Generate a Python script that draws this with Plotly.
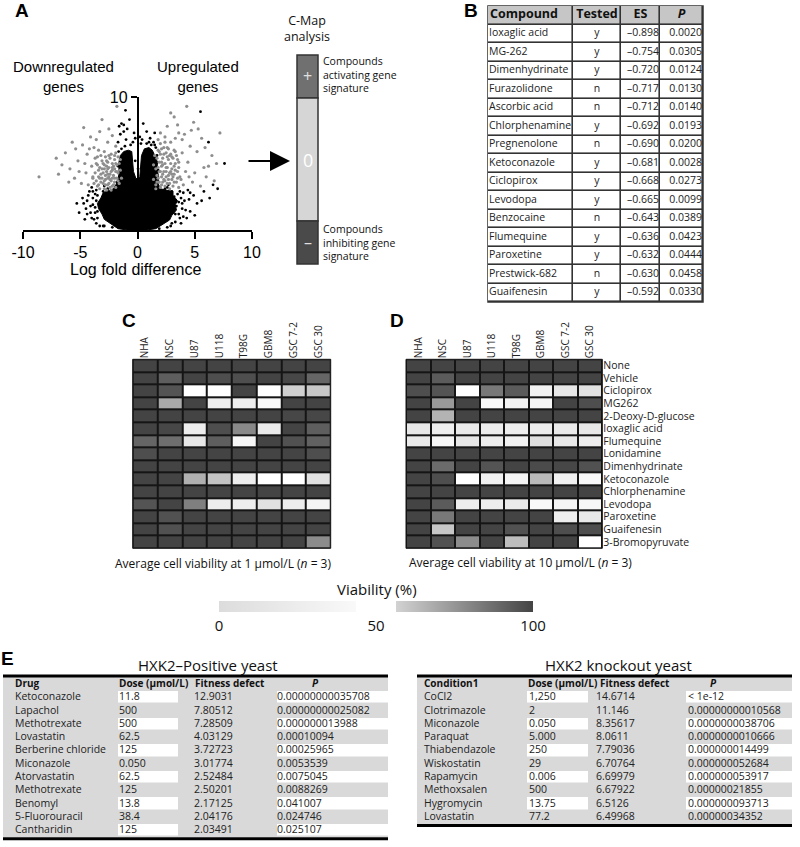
import plotly.graph_objects as go

W, H = 800, 847


def X(p):
    return p / W


def Y(p):
    return 1 - p / H


FONT = "Open Sans"
HELV = "Liberation Sans"

# ---------------- Panel A : volcano ----------------
core_outline = [(-0.1, 0), (0.8, 0.0), (1.6, 0.1), (2.2, 0.4), (2.8, 0.75), (3.0, 1.1), (3.4, 1.5),
                (3.3, 1.9), (3.5, 2.2), (3.1, 2.6), (3.1, 2.9), (2.5, 3.0), (2.0, 3.1), (1.8, 3.5),
                (1.85, 4.0), (1.7, 4.6), (1.75, 5.1), (1.5, 5.6), (1.3, 6.0), (1.0, 6.2), (0.6, 6.1),
                (0.35, 5.6), (0.25, 4.8), (0.2, 4.0), (0.05, 3.8), (-0.15, 3.9), (-0.35, 4.4),
                (-0.4, 5.2), (-0.5, 5.9), (-0.8, 6.0), (-1.2, 5.9), (-1.5, 5.6), (-1.65, 5.0),
                (-1.6, 4.3), (-1.75, 3.6), (-2.1, 3.1), (-2.6, 2.9), (-3.0, 2.8), (-3.2, 2.4),
                (-3.5, 2.0), (-3.4, 1.6), (-3.1, 1.2), (-2.9, 0.8), (-2.4, 0.5), (-1.7, 0.1),
                (-0.9, 0), (-0.1, 0)]
core_x = [p[0] for p in core_outline]
core_y = [p[1] for p in core_outline]

black_points = [(-1.05, 9.0), (5.5, 8.9), (6.2, 6.6), (7.6, 5.0), (7.0, 3.1), (6.3, 2.4), (5.8, 2.9),
                (5.2, 2.0), (4.9, 2.6), (4.6, 1.4), (4.4, 3.0), (4.1, 2.2), (3.9, 1.6), (3.7, 0.9),
                (3.5, 2.7), (3.3, 0.6), (4.3, 0.9), (5.0, 1.1), (-4.8, 2.4), (-4.5, 1.6), (-4.2, 2.9),
                (-4.0, 0.9), (-3.9, 1.9), (-3.7, 2.7), (-3.6, 0.5), (-3.5, 1.4), (-4.6, 0.8),
                (-5.1, 1.3), (-5.3, 2.0), (-3.3, 0.3), (-1.4, 8.0), (-1.2, 7.4), (-0.9, 7.6),
                (-0.7, 8.3), (0.5, 8.0), (0.8, 7.4), (1.1, 6.9), (1.4, 6.6), (1.6, 6.2), (-1.7, 6.6),
                (-1.5, 7.2), (2.0, 2.8), (-2.1, 2.9), (0.0, 3.6), (-0.1, 2.8), (0.05, 4.6),
                (-0.2, 5.2), (0.1, 2.5), (6.6, 3.4), (5.6, 2.2), (3.4, 1.8), (-3.6, 2.2), (2.6, 3.2),
                (3.2, 2.5), (3.3, 1.2), (3.0, 0.5), (2.6, 0.2), (3.6, 2.1), (3.0, 2.9), (2.4, 3.1),
                (-3.5, 2.6), (-3.7, 1.7), (-3.5, 0.9), (-3.0, 0.3), (-2.6, 3.1), (-3.0, 2.9),
                (-3.9, 2.4), (-4.1, 1.3), (-2.2, 0.2), (1.9, 0.1), (-1.8, 3.6), (-1.7, 4.8),
                (-1.65, 5.9), (1.8, 4.5), (1.7, 5.6), (1.5, 6.4), (-0.4, 6.6), (0.3, 6.5),
                (-0.3, 7.3), (0.2, 7.0), (-1.2, 7.9), (1.0, 6.6), (4.0, 2.8), (-4.4, 2.2),
                (-2.9, 3.3), (2.7, 3.4), (3.8, 2.4), (-4.0, 3.2),
                (-4.3, 2.6), (-4.1, 1.8), (-3.9, 2.9), (-3.8, 0.8), (-3.7, 1.3), (-4.4, 1.2),
                (-3.6, 3.0), (3.7, 2.9), (3.9, 2.0), (4.2, 1.5), (3.6, 1.2), (4.5, 2.3), (3.8, 0.5),
                (4.6, 2.8), (-2.9, 0.3), (2.9, 0.3), (-4.7, 2.0), (4.0, 1.0), (-0.6, 6.4),
                (-1.1, 6.3), (-1.4, 6.1), (0.8, 6.5), (1.2, 6.4), (-0.2, 6.9), (-1.0, 6.8),
                (0.4, 6.8), (1.5, 7.3), (-1.6, 7.8)]
black_x = [p[0] for p in black_points]
black_y = [p[1] for p in black_points]

grey_points = [
    # left dense cluster
    (-3.5, 3.3), (-3.4, 4.0), (-3.3, 4.7), (-3.2, 3.6), (-3.1, 5.2), (-3.0, 4.3), (-2.9, 3.1),
    (-2.9, 4.9), (-2.8, 3.8), (-2.8, 5.5), (-2.7, 4.4), (-2.6, 3.4), (-2.6, 5.1), (-2.5, 4.0),
    (-2.5, 4.7), (-2.4, 3.2), (-2.4, 5.4), (-2.3, 3.7), (-2.3, 4.4), (-2.2, 5.0), (-2.2, 3.3),
    (-2.1, 4.1), (-2.1, 4.8), (-2.0, 3.6), (-2.0, 5.3), (-1.9, 4.4), (-1.9, 3.2), (-1.8, 4.9),
    (-1.8, 3.9), (-1.7, 5.5), (-1.7, 4.3), (-1.6, 3.5), (-1.6, 5.0), (-3.4, 4.5), (-3.0, 3.5),
    (-2.7, 3.0), (-2.6, 4.6), (-2.3, 5.7), (-2.0, 4.6), (-3.2, 4.2), (-1.9, 5.8), (-2.8, 4.1),
    (-2.4, 4.2), (-3.6, 3.7), (-2.2, 3.9), (-3.3, 3.1), (-3.1, 3.9), (-2.9, 4.6), (-2.7, 5.2),
    (-2.5, 3.5), (-2.1, 3.4), (-1.8, 4.4), (-2.6, 3.9), (-3.5, 4.9), (-2.2, 4.5),
    (-3.8, 3.5), (-3.7, 4.3), (-3.6, 5.0), (-3.5, 5.5), (-3.3, 3.9), (-3.2, 5.6), (-3.0, 5.0),
    (-2.9, 3.7), (-2.7, 4.8), (-2.5, 5.6), (-2.4, 3.8), (-2.2, 4.7), (-2.0, 3.9), (-1.9, 5.0),
    (-1.7, 3.7), (-1.5, 4.5), (-1.4, 3.9), (-1.5, 5.3), (-3.9, 4.0), (-3.4, 3.4), (-2.8, 3.4),
    (-2.3, 3.0), (-3.1, 4.6), (-2.6, 4.2), (-2.0, 5.6),
    # right dense cluster
    (1.6, 3.4), (1.6, 4.6), (1.7, 5.4), (1.8, 3.9), (1.8, 6.0), (1.9, 4.4), (1.9, 5.1), (2.0, 3.2),
    (2.0, 5.7), (2.1, 4.0), (2.1, 4.8), (2.2, 3.6), (2.2, 5.4), (2.3, 6.2), (2.3, 4.4), (2.4, 3.3),
    (2.4, 5.0), (2.5, 5.8), (2.5, 4.0), (2.6, 4.7), (2.6, 3.5), (2.7, 5.3), (2.7, 6.1), (2.8, 4.3),
    (2.8, 3.1), (2.9, 5.0), (2.9, 5.7), (3.0, 3.8), (3.0, 4.6), (3.1, 5.4), (3.1, 3.3), (3.2, 6.0),
    (3.2, 4.2), (3.3, 5.0), (3.4, 3.6), (3.4, 5.6), (3.5, 4.4), (3.6, 3.2), (3.6, 5.1), (3.7, 4.0),
    (2.0, 6.5), (2.4, 6.6), (2.9, 6.6), (1.7, 4.1), (2.2, 4.2), (2.0, 4.4), (2.3, 3.8),
    (2.5, 4.4), (2.7, 3.8), (2.8, 5.6), (3.0, 4.2), (3.3, 4.5), (2.1, 5.1), (2.6, 5.5), (1.9, 3.6),
    (1.4, 3.8), (1.4, 4.9), (1.5, 5.6), (1.6, 3.1), (1.8, 4.7), (1.9, 5.9), (2.1, 3.4),
    (2.2, 4.9), (2.3, 5.7), (2.4, 3.7), (2.5, 4.7), (2.6, 6.2), (2.8, 3.5), (2.9, 4.4),
    (3.0, 5.5), (3.1, 4.0), (3.2, 3.6), (3.3, 5.9), (3.5, 3.9), (3.5, 5.3), (3.6, 4.7),
    (2.7, 4.1), (2.1, 6.1), (3.2, 4.8), (1.7, 3.6),
    # left sparse
    (-8.6, 4.0), (-7.1, 5.4), (-6.6, 4.9), (-6.3, 5.8), (-6.0, 3.6), (-5.9, 4.6), (-5.7, 6.6),
    (-5.5, 3.9), (-5.2, 5.2), (-5.1, 4.4), (-4.9, 3.5), (-4.8, 6.4), (-4.7, 7.7), (-4.5, 4.3),
    (-4.4, 5.7), (-4.3, 3.4), (-4.1, 7.0), (-4.0, 4.8), (-3.9, 3.9), (-3.8, 6.2), (-3.7, 5.4),
    (-3.6, 6.8), (-3.3, 7.4), (-3.1, 8.3), (-2.9, 5.9), (-2.6, 6.6), (-2.2, 7.1), (-1.9, 6.3),
    (-1.8, 9.3), (-6.9, 4.2), (-4.6, 5.0), (-5.4, 6.1), (-3.4, 6.0), (-4.2, 6.1), (-2.5, 7.6),
    # right sparse
    (4.3, 9.3), (3.2, 8.5), (4.9, 8.1), (7.2, 7.3), (6.5, 5.6), (5.8, 4.7), (3.5, 7.9), (2.6, 7.8),
    (4.1, 7.2), (3.9, 6.8), (4.6, 6.3), (5.2, 5.9), (4.4, 5.1), (5.0, 4.3), (6.0, 4.0), (6.7, 3.7),
    (5.5, 3.3), (4.2, 4.4), (4.7, 7.5), (2.9, 8.8), (2.0, 7.3), (5.6, 6.9), (3.8, 3.8), (6.2, 4.8),
    (4.0, 3.4), (3.6, 7.3), (2.4, 7.0), (5.3, 7.6), (1.8, 6.8), (4.8, 3.6), (3.9, 5.8), (4.5, 4.0),
    (3.3, 6.9), (5.9, 6.2), (6.9, 5.0)]
grey_x = [p[0] for p in grey_points]
grey_y = [p[1] for p in grey_points]

x_ticks = [-10, -5, 0, 5, 10]
x_tick_text = ["-10", "-5", "0", "5", "10"]

# ---------------- Panel B : C-Map table ----------------
b_header = ["<b>Compound</b>", "<b>Tested</b>", "<b>ES</b>", "<b><i>P</i></b>"]
b_compound = ["Ioxaglic acid", "MG-262", "Dimenhydrinate", "Furazolidone", "Ascorbic acid",
              "Chlorphenamine", "Pregnenolone", "Ketoconazole", "Ciclopirox", "Levodopa",
              "Benzocaine", "Flumequine", "Paroxetine", "Prestwick-682", "Guaifenesin"]
b_tested = ["y", "y", "y", "n", "n", "y", "n", "y", "y", "y", "n", "y", "y", "n", "y"]
b_es = [-0.898, -0.754, -0.720, -0.717, -0.712, -0.692, -0.690, -0.681, -0.668, -0.665,
        -0.643, -0.636, -0.632, -0.630, -0.592]
b_p = [0.0020, 0.0305, 0.0124, 0.0130, 0.0140, 0.0193, 0.0200, 0.0028, 0.0273, 0.0099,
       0.0389, 0.0423, 0.0444, 0.0458, 0.0330]

# ---------------- Panels C / D : viability heatmaps ----------------
cell_lines = ["NHA", "NSC", "U87", "U118", "T98G", "GBM8", "GSC 7-2", "GSC 30"]
compounds = ["None", "Vehicle", "Ciclopirox", "MG262", "2-Deoxy-D-glucose", "Ioxaglic acid",
             "Flumequine", "Lonidamine", "Dimenhydrinate", "Ketoconazole", "Chlorphenamine",
             "Levodopa", "Paroxetine", "Guaifenesin", "3-Bromopyruvate"]
viability_1um = [
    [100, 100, 100, 100, 100, 100, 100, 100],
    [100, 92, 100, 97, 97, 100, 99, 90],
    [100, 95, 50, 50, 100, 48, 57, 60],
    [100, 69, 100, 26, 26, 42, 100, 100],
    [100, 100, 100, 100, 100, 100, 99, 99],
    [100, 99, 26, 97, 79, 21, 100, 92],
    [90, 87, 16, 92, 37, 100, 96, 91],
    [97, 100, 100, 100, 100, 100, 100, 97],
    [100, 100, 100, 100, 100, 100, 100, 100],
    [100, 100, 67, 61, 26, 50, 50, 8],
    [100, 100, 100, 100, 100, 100, 100, 100],
    [95, 100, 82, 26, 25, 8, 26, 37],
    [100, 96, 100, 100, 100, 100, 100, 100],
    [100, 96, 100, 100, 100, 100, 100, 100],
    [100, 100, 100, 100, 100, 100, 100, 78],
]
viability_10um = [
    [100, 100, 100, 100, 100, 100, 100, 100],
    [100, 93, 100, 100, 100, 100, 100, 100],
    [97, 95, 50, 84, 93, 32, 16, 8],
    [100, 74, 100, 42, 34, 37, 100, 97],
    [100, 66, 100, 100, 100, 100, 100, 100],
    [18, 28, 21, 24, 26, 24, 21, 18],
    [21, 40, 16, 26, 32, 4, 18, 26],
    [100, 100, 100, 100, 100, 100, 100, 100],
    [100, 88, 100, 95, 100, 98, 99, 96],
    [100, 97, 50, 32, 37, 64, 32, 42],
    [100, 100, 100, 100, 100, 100, 100, 100],
    [100, 93, 26, 25, 21, 42, 37, 40],
    [100, 84, 100, 100, 100, 100, 26, 18],
    [100, 60, 100, 100, 96, 100, 97, 97],
    [100, 96, 78, 100, 63, 100, 100, 45],
]
viability_ticks = [0, 50, 100]

# ---------------- Panel E : yeast tables ----------------
pos_header = ["<b>Drug</b>", "<b>Dose (\u03bcmol/L)</b>", "<b>Fitness defect</b>", "<b><i>P</i></b>"]
pos_drug = ["Ketoconazole", "Lapachol", "Methotrexate", "Lovastatin", "Berberine chloride",
            "Miconazole", "Atorvastatin", "Methotrexate", "Benomyl", "5-Fluorouracil", "Cantharidin"]
pos_dose = ["11.8", "500", "500", "62.5", "125", "0.050", "62.5", "125", "13.8", "38.4", "125"]
pos_fitness = ["12.9031", "7.80512", "7.28509", "4.03129", "3.72723", "3.01774", "2.52484",
               "2.50201", "2.17125", "2.04176", "2.03491"]
pos_p = ["0.00000000035708", "0.00000000025082", "0.000000013988", "0.00010094", "0.00025965",
         "0.0053539", "0.0075045", "0.0088269", "0.041007", "0.024746", "0.025107"]

ko_header = ["<b>Condition1</b>", "<b>Dose (\u03bcmol/L)</b>", "<b>Fitness defect</b>", "<b><i>P</i></b>"]
ko_cond = ["CoCl2", "Clotrimazole", "Miconazole", "Paraquat", "Thiabendazole", "Wiskostatin",
           "Rapamycin", "Methoxsalen", "Hygromycin", "Lovastatin"]
ko_dose = ["1,250", "2", "0.050", "5.000", "250", "29", "0.006", "500", "13.75", "77.2"]
ko_fitness = ["14.6714", "11.146", "8.35617", "8.0611", "7.79036", "6.70764", "6.69979",
              "6.67922", "6.5126", "6.49968"]
ko_p = ["< 1e-12", "0.00000000010568", "0.0000000038706", "0.0000000010666", "0.000000014499",
        "0.000000052684", "0.000000053917", "0.00000021855", "0.000000093713", "0.00000034352"]

# ============================================================================
fig = go.Figure()
shapes = []


def text_col(xv, yv, texts, pos, size, ax, color="#222222", family=FONT):
    fig.add_trace(go.Scatter(x=[xv] * len(texts), y=yv, text=texts, mode="text",
                             textposition=pos, cliponaxis=False,
                             textfont=dict(family=family, size=size, color=color),
                             xaxis="x" + ax, yaxis="y" + ax, hoverinfo="skip", showlegend=False))


# ---- volcano
fig.add_trace(go.Scatter(x=core_x, y=core_y, mode="lines", fill="toself", fillcolor="black",
                         line=dict(color="black", width=1), xaxis="x", yaxis="y",
                         hoverinfo="skip", showlegend=False))
fig.add_trace(go.Scatter(x=black_x, y=black_y, mode="markers",
                         marker=dict(color="black", size=2.8), xaxis="x", yaxis="y",
                         hoverinfo="skip", showlegend=False, cliponaxis=False))
fig.add_trace(go.Scatter(x=grey_x, y=grey_y, mode="markers",
                         marker=dict(color="#8e8e8e", size=3.2), xaxis="x", yaxis="y",
                         hoverinfo="skip", showlegend=False, cliponaxis=False))

# ---- table B (axis 4): x in px, y in rows
b_col_edges = [0, 85, 133, 172, 215]
nb = len(b_compound)
b_row_edges = list(range(nb + 2))
b_fill = [[1] * 4] + [[0] * 4 for _ in range(nb)]
shapes.append(dict(type="rect", xref="x4 domain", yref="y4 domain", x0=0, x1=1, y0=0, y1=1,
                   fillcolor="#333333", line=dict(color="#333333", width=1.5), layer="below"))
fig.add_trace(go.Heatmap(z=b_fill, x=b_col_edges, y=b_row_edges, zmin=0, zmax=1,
                         colorscale=[[0, "white"], [1, "#c6c6c6"]], showscale=False,
                         xgap=1.6, ygap=1.6, xaxis="x4", yaxis="y4", hoverinfo="skip"))
b_rows = [i + 1.5 for i in range(nb)]
text_col(2, [0.5], b_header[:1], "middle right", 12.5, "4", color="#111111")
text_col(109, [0.5], b_header[1:2], "middle center", 12.5, "4", color="#111111")
text_col(152.5, [0.5], b_header[2:3], "middle center", 12.5, "4", color="#111111")
text_col(193.5, [0.5], b_header[3:4], "middle center", 12.5, "4", color="#111111")
text_col(1, b_rows, b_compound, "middle right", 10.5, "4")
text_col(109, b_rows, b_tested, "middle center", 10.5, "4")
text_col(171, b_rows, ["\u2013%.3f" % abs(v) for v in b_es], "middle left", 10.5, "4")
text_col(214, b_rows, ["%.4f" % v for v in b_p], "middle left", 10.5, "4")

# ---- heatmaps C / D
for ax in ("2", "3"):
    shapes.append(dict(type="rect", xref="x%s domain" % ax, yref="y%s domain" % ax,
                       x0=0, x1=1, y0=0, y1=1, fillcolor="#151515",
                       line=dict(color="#151515", width=1), layer="below"))
fig.add_trace(go.Heatmap(z=viability_1um, x=cell_lines, y=compounds, coloraxis="coloraxis",
                         xgap=2, ygap=2, xaxis="x2", yaxis="y2", hoverinfo="skip"))
fig.add_trace(go.Heatmap(z=viability_10um, x=cell_lines, y=compounds, coloraxis="coloraxis",
                         xgap=2, ygap=2, xaxis="x3", yaxis="y3", hoverinfo="skip"))

# ---- tables E (axes 5, 6): x in px, y in px
GREY = "#d9d9d9"
HEAD_H, ROW_H = 14, 13.3


def yeast_table(ax, col_edges, white_cols, header, header_x, columns, col_x):
    n = len(columns[0])
    row_edges = [0, HEAD_H] + [HEAD_H + ROW_H * (i + 1) for i in range(n)]
    fill = [[0] * (len(col_edges) - 1)]
    for i in range(n):
        fill.append([1 if (c in white_cols and i % 2 == 0) else 0 for c in range(len(col_edges) - 1)])
    shapes.append(dict(type="rect", xref="x%s domain" % ax, yref="y%s domain" % ax,
                       x0=0, x1=1, y0=0, y1=1, fillcolor=GREY, line=dict(width=0), layer="below"))
    fig.add_trace(go.Heatmap(z=fill, x=col_edges, y=row_edges, zmin=0, zmax=1,
                             colorscale=[[0, GREY], [1, "white"]], showscale=False,
                             xgap=0, ygap=1.5, xaxis="x" + ax, yaxis="y" + ax, hoverinfo="skip"))
    rows = [HEAD_H + ROW_H * (i + 0.5) for i in range(n)]
    for hx, h in zip(header_x, header):
        text_col(hx, [HEAD_H / 2], [h], "middle right", 10, ax, color="#111111")
    for cx, col in zip(col_x, columns):
        text_col(cx, rows, col, "middle right", 10.5, ax)
    return HEAD_H + ROW_H * n


pos_h = yeast_table("5", [0, 115, 175, 186, 274, 385], (1, 4), pos_header,
                    [12, 116, 192, 309], [pos_drug, pos_dose, pos_fitness, pos_p],
                    [12, 116, 191, 274])
ko_h = yeast_table("6", [0, 110, 171, 269, 375], (1, 3), ko_header,
                   [7, 111, 183, 293], [ko_cond, ko_dose, ko_fitness, ko_p],
                   [7, 112, 179, 271])

# ---- C-Map bar
for (t, b, col) in [(55, 98, "#707070"), (98, 221, "#d6d6d6"), (221, 264, "#4a4a4a")]:
    shapes.append(dict(type="rect", xref="paper", yref="paper", x0=X(297), x1=X(318),
                       y0=Y(b), y1=Y(t), fillcolor=col, line=dict(color="#333333", width=1.5)))
# table rules
for (x0, x1, yy) in [(3, 388, 676), (3, 388, 677 + pos_h + 1.5), (417, 792, 676),
                     (417, 792, 677 + ko_h + 1.5)]:
    shapes.append(dict(type="line", xref="paper", yref="paper", x0=X(x0), x1=X(x1),
                       y0=Y(yy), y1=Y(yy), line=dict(color="black", width=3)))

# ---------------- annotations ----------------
ann = []


def text(x, y, s, size, family=FONT, xanchor="center", color="#111111", align="center"):
    ann.append(dict(x=X(x), y=Y(y), xref="paper", yref="paper", text=s, showarrow=False,
                    xanchor=xanchor, yanchor="middle", align=align,
                    font=dict(family=family, size=size, color=color)))


for (lx, ly, s) in [(22, 10, "A"), (471, 10, "B"), (129, 320, "C"), (397, 320, "D"), (7, 658, "E")]:
    text(lx, ly, "<b>%s</b>" % s, 19, family=HELV, color="black")

text(63, 76, "Downregulated<br>genes", 15, family=HELV, color="black")
text(198, 76, "Upregulated<br>genes", 15, family=HELV, color="black")
text(135, 269, "Log fold difference", 16, family=HELV, color="black")

text(307, 29, "C-Map<br>analysis", 12.5)
text(321, 75, "Compounds<br>activating gene<br>signature", 10.5, xanchor="left", align="left")
text(321, 242, "Compounds<br>inhibiting gene<br>signature", 10.5, xanchor="left", align="left")
text(307.5, 76, "+", 16, color="#e0e0e0")
text(307.5, 160, "0", 18, color="white")
text(307.5, 242, "\u2013", 16, color="#e0e0e0")

ann.append(dict(x=X(290), y=Y(161), ax=-43, ay=0, xref="paper", yref="paper",
                axref="pixel", ayref="pixel", text="", showarrow=True, arrowhead=2,
                arrowsize=2, arrowwidth=2, arrowcolor="black", standoff=0))

text(223, 563, "Average cell viability at 1 \u03bcmol/L (<i>n</i> = 3)", 12)
text(520, 562, "Average cell viability at 10 \u03bcmol/L (<i>n</i> = 3)", 12)
text(377, 589, "Viability (%)", 15)

text(208, 665, "HXK2\u2013Positive yeast", 15)
text(618, 665, "HXK2 knockout yeast", 15)

colorscale = [[0, "#dcdcdc"], [0.435, "#f9f9f9"], [0.435, "#ffffff"], [0.565, "#ffffff"],
              [0.565, "#d2d2d2"], [1, "#444444"]]

hidden = dict(visible=False, showgrid=False, zeroline=False, automargin=False, fixedrange=True)

fig.update_layout(
    template="none",
    width=W, height=H, autosize=False, margin=dict(l=0, r=0, t=0, b=0, pad=0),
    paper_bgcolor="white", plot_bgcolor="white", showlegend=False,
    font=dict(family=FONT, color="#111111"),
    xaxis=dict(domain=[X(23), X(252)], range=[-10, 10], anchor="y", showline=True,
               linecolor="black", linewidth=1.5, ticks="outside", ticklen=7, tickwidth=1.5,
               tickcolor="black", tickvals=x_ticks, ticktext=x_tick_text,
               tickfont=dict(family=HELV, size=16, color="black"), showgrid=False,
               zeroline=False, fixedrange=True, automargin=False),
    yaxis=dict(domain=[Y(230), Y(97)], range=[0, 10], anchor="free", position=X(137.5),
               showline=True, linecolor="black", linewidth=1.5, ticks="outside", ticklen=6,
               tickwidth=1.5, tickcolor="black", tickvals=[10], ticktext=["10"],
               tickfont=dict(family=HELV, size=16, color="black"), showgrid=False,
               zeroline=False, fixedrange=True, automargin=False),
    xaxis2=dict(domain=[X(132.7), X(330.7)], anchor="y2", side="top", tickangle=-90, ticks="",
                showgrid=False, zeroline=False, showline=False, automargin=False,
                tickmode="array", tickvals=cell_lines,
                tickfont=dict(family=FONT, size=10, color="#222222")),
    yaxis2=dict(domain=[Y(548.3), Y(359.3)], anchor="x2", autorange="reversed",
                showticklabels=False, ticks="", showgrid=False, zeroline=False, automargin=False),
    xaxis3=dict(domain=[X(406), X(602.3)], anchor="y3", side="top", tickangle=-90, ticks="",
                showgrid=False, zeroline=False, showline=False, automargin=False,
                tickmode="array", tickvals=cell_lines,
                tickfont=dict(family=FONT, size=10, color="#222222")),
    yaxis3=dict(domain=[Y(548.3), Y(359.3)], anchor="x3", side="right", autorange="reversed",
                ticks="", showgrid=False, zeroline=False, automargin=False,
                tickmode="array", tickvals=compounds,
                tickfont=dict(family=FONT, size=10.5, color="#222222")),
    xaxis4=dict(domain=[X(488), X(703)], range=[0, 215], anchor="y4", **hidden),
    yaxis4=dict(domain=[Y(302), Y(6)], range=[nb + 1, 0], anchor="x4", **hidden),
    xaxis5=dict(domain=[X(3), X(388)], range=[0, 385], anchor="y5", **hidden),
    yaxis5=dict(domain=[Y(677 + pos_h), Y(677)], range=[pos_h, 0], anchor="x5", **hidden),
    xaxis6=dict(domain=[X(417), X(792)], range=[0, 375], anchor="y6", **hidden),
    yaxis6=dict(domain=[Y(677 + ko_h), Y(677)], range=[ko_h, 0], anchor="x6", **hidden),
    coloraxis=dict(colorscale=colorscale, cmin=0, cmax=100,
                   colorbar=dict(orientation="h", x=X(376), xanchor="center", y=Y(601),
                                 yanchor="top", len=314, lenmode="pixels", thickness=11,
                                 thicknessmode="pixels", outlinewidth=0, xpad=0, ypad=0,
                                 tickvals=viability_ticks, ticks="",
                                 tickfont=dict(family=FONT, size=15, color="#111111"))),
    shapes=shapes, annotations=ann,
)

fig.write_html("out.html", config={"displayModeBar": False},
               post_script="document.body.style.margin='0px';")
